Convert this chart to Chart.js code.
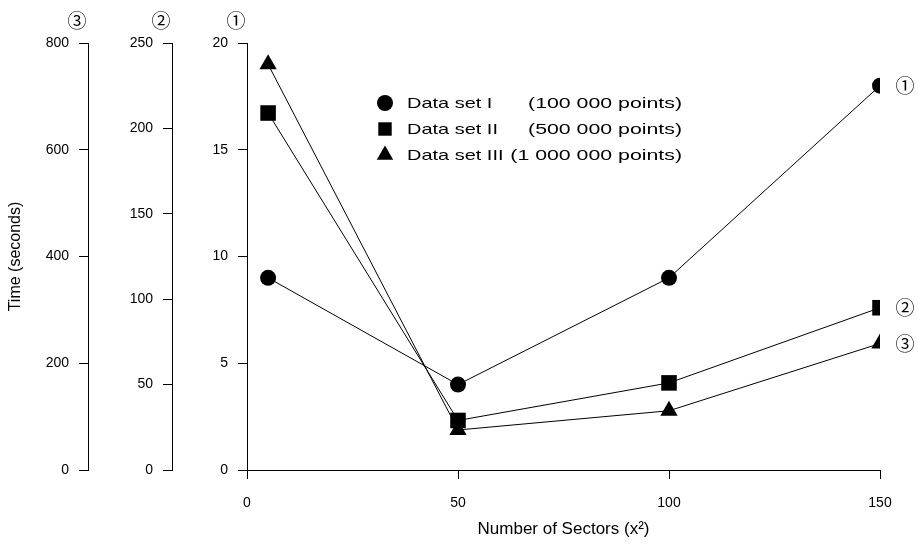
<!DOCTYPE html>
<html>
<head>
  <title>Time vs Number of Sectors</title>
  <script src="https://cdn.jsdelivr.net/npm/chart.js@4.4.0/dist/chart.umd.min.js"></script>
  <style>
    body { margin: 0; background: #fff; }
    #wrap { width: 918px; height: 545px; }
  </style>
</head>
<body>
  <div id="wrap"><canvas id="chart" width="918" height="545"></canvas></div>
  <script>
    // x values (number of sectors, x^2)
    var sectors = [5, 50, 100, 150];
    // time in seconds, each series read against its own axis
    var setI = [9, 4, 9, 18];           // axis (1), 0-20
    var setII = [209, 29, 51, 95];      // axis (2), 0-250
    var setIII = [760, 75, 111, 237];   // axis (3), 0-800

    var seriesNames = ['Data set I', 'Data set II', 'Data set III'];
    var seriesSizes = ['(100 000 points)', '(500 000 points)', '(1 000 000 points)'];
    var axisMarks = ['\u2460', '\u2461', '\u2462'];
    var markerStyles = ['circle', 'rect', 'triangle'];
    var markerRadius = [8, 11, 10];

    var FONT = '"Liberation Sans", Arial, sans-serif';
    var MARK_FONT = '"Noto Sans CJK JP", "DejaVu Sans", sans-serif';

    function toPoints(ys) {
      return sectors.map(function(x, i) { return { x: x, y: ys[i] }; });
    }

    function yAxis(max, step, width, weight, title) {
      return {
        type: 'linear',
        position: 'left',
        min: 0,
        max: max,
        weight: weight,
        grid: { drawOnChartArea: false, drawTicks: true, tickLength: 9, color: '#000', lineWidth: 1 },
        border: { display: true, color: '#000', width: 1 },
        ticks: { stepSize: step, padding: 10, color: '#000', font: { family: FONT, size: 14 } },
        title: title ? { display: true, text: title, color: '#000', padding: { top: 6, bottom: 0 }, font: { family: FONT, size: 16 } } : { display: false },
        afterFit: function(scale) { scale.width = width; }
      };
    }

    function drawMarker(ctx, style, x, y, r) {
      ctx.beginPath();
      if (style === 'circle') {
        ctx.arc(x, y, r, 0, Math.PI * 2);
      } else if (style === 'rect') {
        var s = r * Math.SQRT1_2;
        ctx.rect(x - s, y - s, 2 * s, 2 * s);
      } else {
        ctx.moveTo(x, y - r);
        ctx.lineTo(x + r * Math.sin(Math.PI * 2 / 3), y + r / 2);
        ctx.lineTo(x - r * Math.sin(Math.PI * 2 / 3), y + r / 2);
        ctx.closePath();
      }
      ctx.fill();
    }

    // wide text, the original lettering is stretched sideways
    function wideText(ctx, text, x, y, align, sx) {
      ctx.save();
      ctx.translate(x, y);
      ctx.scale(sx, 1);
      ctx.textAlign = align;
      ctx.fillText(text, 0, 0);
      ctx.restore();
    }

    var extras = {
      id: 'extras',
      afterDraw: function(chart) {
        var ctx = chart.ctx;
        var xs = chart.scales.x;
        var axisIds = ['y1', 'y2', 'y3'];
        var lastVals = [setI[3], setII[3], setIII[3]];

        ctx.save();
        ctx.fillStyle = '#000';
        ctx.textBaseline = 'middle';

        // circled numbers above each y axis and next to each series end
        ctx.font = '19px ' + MARK_FONT;
        ctx.textAlign = 'center';
        axisIds.forEach(function(id, i) {
          var sc = chart.scales[id];
          ctx.fillText(axisMarks[i], sc.right - 11, 21);
          ctx.fillText(axisMarks[i], xs.getPixelForValue(sectors[3]) + 25, sc.getPixelForValue(lastVals[i]));
        });

        // legend
        var rows = [103, 129, 155];
        var legendR = [8, 9.5, 9.5];
        ctx.font = '15px ' + FONT;
        rows.forEach(function(y, i) {
          drawMarker(ctx, markerStyles[i], 385, y, legendR[i]);
          wideText(ctx, seriesNames[i], 407, y + 1, 'left', 1.33);
          wideText(ctx, seriesSizes[i], 682, y + 1, 'right', 1.42);
        });
        ctx.restore();
      }
    };

    function dataset(label, ys, axis, i) {
      return {
        label: label,
        data: toPoints(ys),
        yAxisID: axis,
        borderColor: '#000',
        backgroundColor: '#000',
        borderWidth: 1,
        tension: 0,
        pointStyle: markerStyles[i],
        pointRadius: markerRadius[i],
        pointBorderWidth: 0,
        pointBackgroundColor: '#000'
      };
    }

    new Chart(document.getElementById('chart'), {
      type: 'line',
      data: {
        datasets: [
          dataset(seriesNames[0], setI, 'y1', 0),
          dataset(seriesNames[1], setII, 'y2', 1),
          dataset(seriesNames[2], setIII, 'y3', 2)
        ]
      },
      options: {
        responsive: false,
        animation: false,
        layout: { padding: { top: 43, left: 0, right: 38, bottom: 0 } },
        plugins: { legend: { display: false }, tooltip: { enabled: false } },
        scales: {
          x: {
            type: 'linear',
            min: 0,
            max: 150,
            grid: { drawOnChartArea: false, drawTicks: true, tickLength: 9, color: '#000' },
            border: { display: true, color: '#000', width: 1 },
            ticks: { stepSize: 50, padding: 16, color: '#000', maxRotation: 0, font: { family: FONT, size: 14 } },
            title: { display: true, text: 'Number of Sectors (x\u00b2)', color: '#000', padding: { top: 0, bottom: 5 }, font: { family: FONT, size: 17 } },
            afterFit: function(scale) { scale.height = 75; }
          },
          y1: yAxis(20, 5, 75, 0, null),
          y2: yAxis(250, 50, 84, 1, null),
          y3: yAxis(800, 200, 88, 2, 'Time (seconds)')
        }
      },
      plugins: [extras]
    });
  </script>
</body>
</html>
